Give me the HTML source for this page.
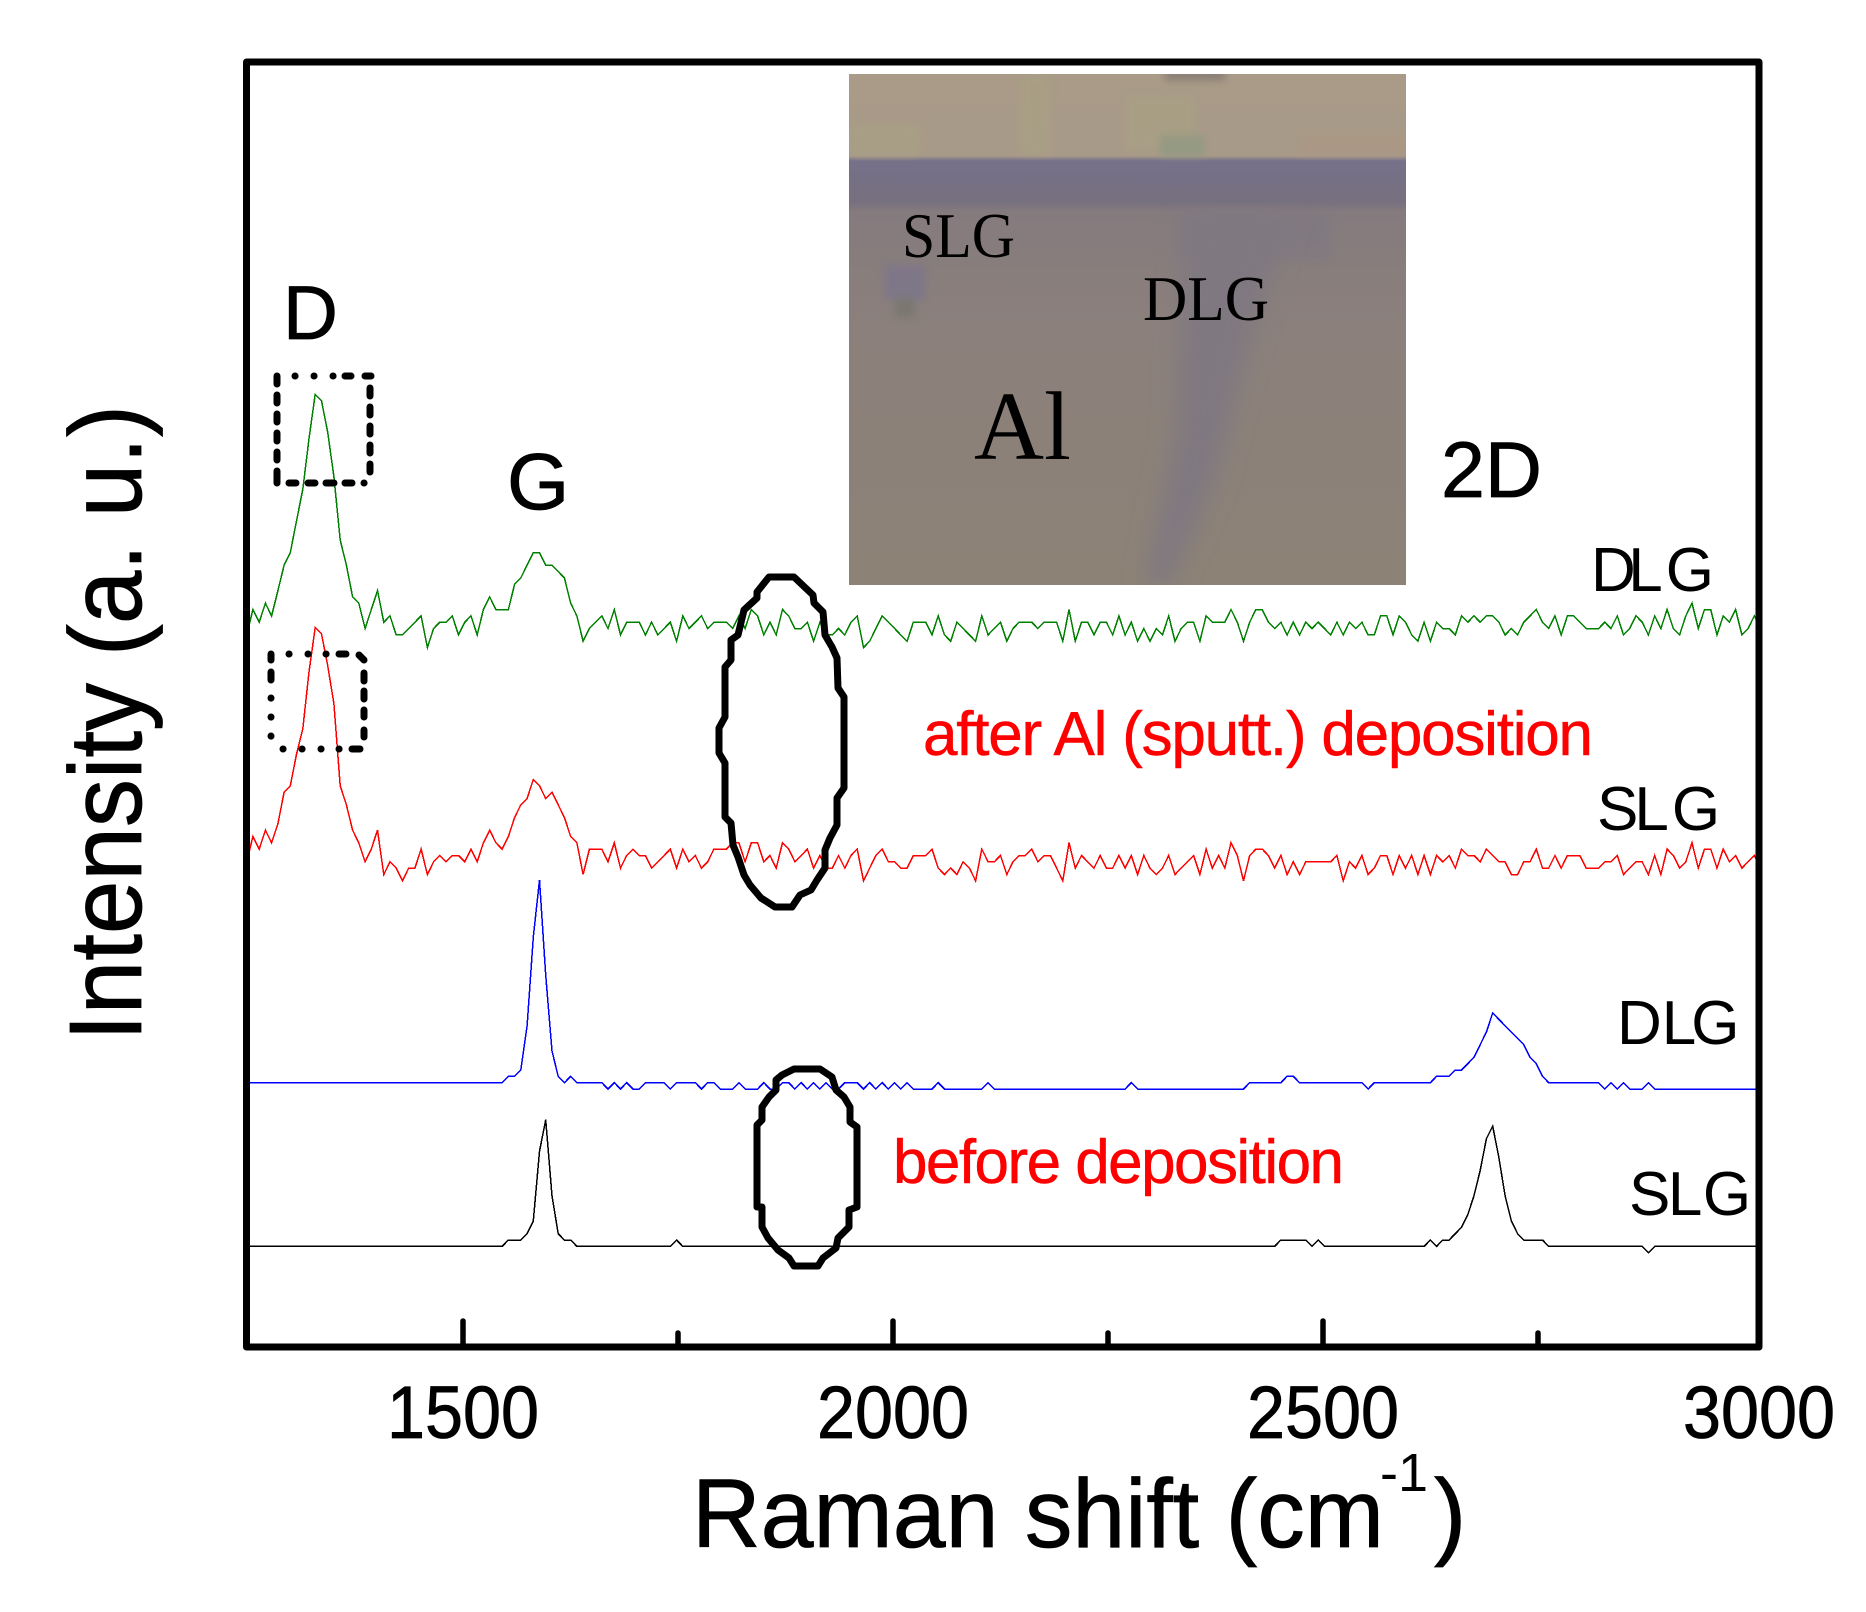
<!DOCTYPE html>
<html lang="en">
<head>
<meta charset="utf-8">
<title>Raman spectra before and after Al deposition</title>
<style>
html,body{margin:0;padding:0;background:#fff;}
svg{display:block;}
text{font-family:"Liberation Sans",Arial,sans-serif;fill:#000;}
.heavy{stroke:#000;stroke-width:.8px;}
.serif{font-family:"Liberation Serif","Times New Roman",serif;}
.red{fill:#ff0000;stroke:#ff0000;stroke-width:.5px;}
</style>
</head>
<body>
<svg id="chart" xmlns="http://www.w3.org/2000/svg" width="1866" height="1612" viewBox="0 0 1866 1612">
  <defs>
    <clipPath id="plot-clip"><rect x="246" y="62" width="1513" height="1285"/></clipPath>
    <clipPath id="photo-clip"><rect x="849" y="74" width="557" height="511"/></clipPath>
    <filter id="soft" x="-20%" y="-20%" width="140%" height="140%"><feGaussianBlur stdDeviation="4"/></filter>
    <filter id="softer" x="-40%" y="-40%" width="180%" height="180%"><feGaussianBlur stdDeviation="12"/></filter>
    <linearGradient id="photo-fade" x1="0" y1="0" x2="0" y2="1">
      <stop offset="0" stop-color="#a99b87"/>
      <stop offset="0.16" stop-color="#a89a88"/>
      <stop offset="0.17" stop-color="#76708a"/>
      <stop offset="0.25" stop-color="#76707f"/>
      <stop offset="0.27" stop-color="#857b7e"/>
      <stop offset="0.50" stop-color="#8b807b"/>
      <stop offset="1" stop-color="#8d8276"/>
    </linearGradient>
  </defs>

  <g id="inset-photo" clip-path="url(#photo-clip)">
    <rect x="849" y="74" width="557" height="511" fill="url(#photo-fade)"/>
    <g filter="url(#soft)" opacity="0.75">
      <rect x="849" y="125" width="70" height="30" fill="#a9a084"/>
      <rect x="1020" y="74" width="30" height="80" fill="#a9a084"/>
      <rect x="1125" y="95" width="70" height="55" fill="#a8a084"/>
      <rect x="1300" y="135" width="110" height="20" fill="#ab9784"/>
      <rect x="1160" y="135" width="45" height="22" fill="#8f9a80"/>
      <rect x="1165" y="70" width="60" height="10" fill="#7b716e"/>
      <rect x="885" y="265" width="40" height="35" fill="#7a748c"/>
      <rect x="895" y="298" width="20" height="20" fill="#76766c"/>
      <rect x="1180" y="210" width="150" height="50" fill="#7f7980"/>
    </g>
    <polygon filter="url(#softer)" points="1185,215 1290,215 1250,340 1215,480 1170,585 1145,585 1175,440" fill="#7f7880"/>
    <text class="serif" x="902" y="257" font-size="64" textLength="113" lengthAdjust="spacingAndGlyphs">SLG</text>
    <text class="serif" x="1143" y="320" font-size="64" textLength="126" lengthAdjust="spacingAndGlyphs">DLG</text>
    <text class="serif" x="974" y="459" font-size="97">Al</text>
  </g>

  <g id="series-layer" clip-path="url(#plot-clip)"></g>

  <g id="dashed-box-d-top" fill="none" stroke="#000" stroke-width="7" stroke-linecap="round">
    <path d="M277 376V384M277 395V403M277 414V422M277 433V441M277 452V460M277 471V483"/>
    <path d="M295 376h.1M314 376h.1M333 376h.1M345 376H351M365 376H371"/>
    <path d="M370 388V396M370 407V415M370 426V434M370 445V453M370 464V472"/>
    <path d="M289 483H296M308 483H315M326 483H334M345 483H352M364 483h.1"/>
  </g>
  <g id="dashed-box-d-bottom" fill="none" stroke="#000" stroke-width="7" stroke-linecap="round">
    <path d="M271 654V660M271 672V680M271 698v.1M271 717v.1M271 736v.1"/>
    <path d="M289 654h.1M308 654h.1M326 654h.1M339 654H346M359 655L364 660"/>
    <path d="M364 673V681M364 691V699M364 710V717M364 730V737"/>
    <path d="M283 749h.1M302 749h.1M321 749h.1M339 749h.1M352 749H360"/>
  </g>

  <polygon id="ellipse-after" fill="none" stroke="#000" stroke-width="7" stroke-linejoin="round" points="769,577 794,577 813,595 814,603 823,612 825,635 832,647 837,658 838,688 844,697 844,788 837,798 837,825 830,838 825,850 825,868 817,880 811,890 800,895 792,907 775,907 761,898 750,885 744,875 738,857 733,845 731,823 725,817 725,763 719,753 719,728 725,717 725,667 731,660 731,640 738,635 744,610 757,598 757,592"/>
  <polygon id="ellipse-before" fill="none" stroke="#000" stroke-width="7" stroke-linejoin="round" points="794,1069 820,1069 832,1077 836,1090 844,1097 850,1107 850,1122 857,1127 857,1207 849,1210 849,1227 838,1238 836,1248 823,1258 818,1266 794,1266 789,1258 778,1250 768,1238 762,1227 762,1207 757,1207 757,1125 762,1120 762,1107 769,1097 776,1090 776,1080 782,1075"/>

  <g id="axis-layer"></g>
  <rect id="plot-frame" x="246.5" y="62" width="1512.5" height="1285" fill="none" stroke="#000" stroke-width="7" stroke-linejoin="round"/>

  <text class="heavy" x="283" y="339" font-size="76">D</text>
  <text class="heavy" x="507" y="509" font-size="80">G</text>
  <text class="heavy" x="1441" y="497" font-size="79">2D</text>

  <text x="1591" y="591" font-size="62">D<tspan dx="-7.5">L</tspan><tspan dx="3">G</tspan></text>
  <text x="1597" y="830" font-size="62">S<tspan dx="-4">L</tspan><tspan dx="3">G</tspan></text>
  <text x="1617" y="1044" font-size="62">D<tspan>L</tspan><tspan dx="-5">G</tspan></text>
  <text x="1629" y="1215" font-size="62">S<tspan dx="-2.5">L</tspan><tspan dx="0.5">G</tspan></text>

  <text class="red" x="923" y="755" font-size="62" textLength="670" lengthAdjust="spacing">after Al (sputt.) deposition</text>
  <text class="red" x="893" y="1183" font-size="62" textLength="451" lengthAdjust="spacing">before deposition</text>

  <text class="heavy" transform="translate(141 1041) rotate(-90)" font-size="103" textLength="636" lengthAdjust="spacingAndGlyphs">Intensity (a. u.)</text>
  <text class="heavy" x="692" y="1547" font-size="97" textLength="692" lengthAdjust="spacingAndGlyphs">Raman shift (cm</text>
  <text x="1380" y="1491" font-size="54">-1</text>
  <text class="heavy" x="1434" y="1547" font-size="97">)</text>
</svg>

<script>
// Sampling of the spectrometer (cm-1)
const shiftStart = 1248.5;
const shiftStep = 7.244;

// Axis ticks
const majorTicks = [1500, 2000, 2500];
const minorTicks = [1750, 2250, 2750];
const tickLabels = [1500, 2000, 2500, 3000];

// Vertical stacking offset of each trace (a.u.)
const offsetDlgAfter = 110.5;
const offsetSlgAfter = 73.65;
const offsetDlgBefore = 40.76;
const offsetSlgBefore = 15.9;

// Intensities (a.u.), one value per sample
const dlgAfter = [
2,6,4,7,5,9,13,15,20,25,
33,40,39,34,27,17,13,8,7,3,
6,9,4,5,2,2,3,4,5,0,
3,4,4,5,2,4,5,2,6,8,
6,6,6,10,11,13,15,15,13,13,
12,11,7,5,1,3,4,5,3,6,
2,4,4,4,2,4,2,3,4,1,
5,3,4,5,3,4,4,4,3,5,
3,6,5,2,4,2,6,5,3,3,
4,1,4,2,2,3,2,4,5,0,
1,3,5,4,3,2,1,4,4,4,
2,5,2,1,4,3,2,1,5,2,
3,4,1,3,4,4,4,3,4,4,
4,1,6,1,4,4,2,4,4,2,
5,2,4,1,3,1,3,2,5,1,
3,4,4,1,5,4,4,4,6,4,
1,4,6,6,4,3,4,2,4,2,
4,3,4,3,2,4,2,4,3,4,
2,2,5,5,2,5,4,2,1,4,
1,4,3,3,2,5,4,5,4,5,
5,4,2,3,2,4,5,6,4,3,
5,2,5,5,4,3,3,3,4,3,
5,2,3,5,4,2,5,3,6,3,
2,5,7,3,6,6,2,5,4,6,
2,3,5,3];

const slgAfter = [
3,7,5,8,6,9,14,15,20,24,
33,40,39,34,28,15,12,8,6,3,
5,8,1,3,2,0,2,2,5,1,
3,4,3,4,4,3,5,3,6,8,
6,5,7,10,12,13,16,15,13,14,
12,10,7,6,1,5,5,5,3,6,
2,4,5,4,4,2,3,4,5,2,
5,3,4,2,3,5,5,5,6,6,
3,6,6,3,4,2,6,5,3,4,
5,2,4,2,2,4,2,4,5,0,
2,4,5,3,3,2,2,4,4,4,
5,2,1,2,1,3,2,0,5,3,
3,4,1,3,4,4,5,3,4,4,
2,0,6,2,4,3,2,4,2,2,
4,2,4,1,4,2,1,2,4,1,
2,3,4,1,5,2,4,2,6,4,
0,4,5,5,4,2,4,1,3,1,
3,3,3,3,3,4,0,3,2,4,
1,2,4,4,1,4,2,4,1,4,
1,4,3,4,2,5,4,4,3,5,
4,3,3,1,1,3,3,5,2,2,
4,2,4,4,4,2,2,2,3,3,
4,1,2,3,3,1,4,1,5,4,
2,3,6,2,5,5,2,5,3,4,
2,3,4,2];

const dlgBefore = [
1,1,1,1,1,1,1,1,1,1,
1,1,1,1,1,1,1,1,1,1,
1,1,1,1,1,1,1,1,1,1,
1,1,1,1,1,1,1,1,1,1,
1,1,2,2,3,10,24,33,18,6,
2,1,2,1,1,1,1,1,0,1,
0,1,0,0,1,1,1,1,0,1,
1,1,1,0,1,1,0,0,0,1,
0,0,0,1,0,0,1,1,0,1,
0,1,0,1,0,0,1,1,1,0,
1,0,1,0,1,0,1,0,0,0,
0,1,0,0,0,0,0,0,0,1,
0,0,0,0,0,0,0,0,0,0,
0,0,0,0,0,0,0,0,0,0,
0,0,1,0,0,0,0,0,0,0,
0,0,0,0,0,0,0,0,0,0,
0,1,1,1,1,1,1,2,2,1,
1,1,1,1,1,1,1,1,1,1,
0,1,1,1,1,1,1,1,1,1,
1,2,2,2,3,3,4,5,7,9,
12,11,10,9,8,7,5,4,2,1,
1,1,1,1,1,1,1,1,0,1,
0,1,0,0,0,1,0,0,0,0,
0,0,0,0,0,0,0,0,0,0,
0,0,0,0];

const slgBefore = [
0,0,0,0,0,0,0,0,0,0,
0,0,0,0,0,0,0,0,0,0,
0,0,0,0,0,0,0,0,0,0,
0,0,0,0,0,0,0,0,0,0,
0,0,1,1,1,2,4,15,20,8,
2,1,1,0,0,0,0,0,0,0,
0,0,0,0,0,0,0,0,0,1,
0,0,0,0,0,0,0,0,0,0,
0,0,0,0,0,0,0,0,0,0,
0,0,0,0,0,0,0,0,0,0,
0,0,0,0,0,0,0,0,0,0,
0,0,0,0,0,0,0,0,0,0,
0,0,0,0,0,0,0,0,0,0,
0,0,0,0,0,0,0,0,0,0,
0,0,0,0,0,0,0,0,0,0,
0,0,0,0,0,0,0,0,0,0,
0,0,0,0,0,0,1,1,1,1,
1,0,1,0,0,0,0,0,0,0,
0,0,0,0,0,0,0,0,0,0,
1,0,1,1,2,3,5,8,12,17,
19,14,8,4,2,1,1,1,1,0,
0,0,0,0,0,0,0,0,0,0,
0,0,0,0,0,-1,0,0,0,0,
0,0,0,0,0,0,0,0,0,0,
0,0,0,0];

const SVG_NS = 'http://www.w3.org/2000/svg';
const plotLeft = 246.5, plotRight = 1759, plotTop = 62, plotBottom = 1347;

function xScale(shift) { return 463 + (shift - 1500) * 0.86; }
function yScale(value) { return plotBottom - value * (plotBottom - plotTop) / 203; }

const seriesLayer = document.getElementById('series-layer');
const axisLayer = document.getElementById('axis-layer');

function drawSeries(values, offset, color, label) {
  const pts = values.map(function (v, i) {
    return xScale(shiftStart + i * shiftStep).toFixed(1) + ',' + yScale(v + offset).toFixed(1);
  });
  const line = document.createElementNS(SVG_NS, 'polyline');
  
  
  line.setAttribute('points', pts.join(' '));
  line.setAttribute('fill', 'none');
  line.setAttribute('stroke', color);
  line.setAttribute('stroke-width', '1.5');
  line.setAttribute('shape-rendering', 'crispEdges');
  seriesLayer.appendChild(line);
}

drawSeries(dlgAfter, offsetDlgAfter, '#008000', 'dlg-after-deposition-spectrum');
drawSeries(slgAfter, offsetSlgAfter, '#ff0000', 'slg-after-deposition-spectrum');
drawSeries(dlgBefore, offsetDlgBefore, '#0000ff', 'dlg-before-deposition-spectrum');
drawSeries(slgBefore, offsetSlgBefore, '#000000', 'slg-before-deposition-spectrum');

function drawTick(shift, length, label) {
  const tick = document.createElementNS(SVG_NS, 'line');
  
  
  tick.setAttribute('x1', xScale(shift));
  tick.setAttribute('x2', xScale(shift));
  tick.setAttribute('y1', plotBottom);
  tick.setAttribute('y2', plotBottom - length);
  tick.setAttribute('stroke', '#000');
  tick.setAttribute('stroke-width', '5.5');
  tick.setAttribute('stroke-linecap', 'round');
  axisLayer.appendChild(tick);
}
majorTicks.forEach(function (t) { drawTick(t, 26, 'x-major-tick'); });
minorTicks.forEach(function (t) { drawTick(t, 14, 'x-minor-tick'); });

tickLabels.forEach(function (t) {
  const txt = document.createElementNS(SVG_NS, 'text');
  
  
  txt.setAttribute('class', 'heavy');
  txt.setAttribute('x', (t === 3000 ? plotRight : xScale(t)) - 76);
  txt.setAttribute('y', 1438);
  txt.setAttribute('font-size', '74');
  txt.setAttribute('textLength', '152');
  txt.setAttribute('lengthAdjust', 'spacingAndGlyphs');
  txt.textContent = String(t);
  axisLayer.appendChild(txt);
});
</script>
</body>
</html>
